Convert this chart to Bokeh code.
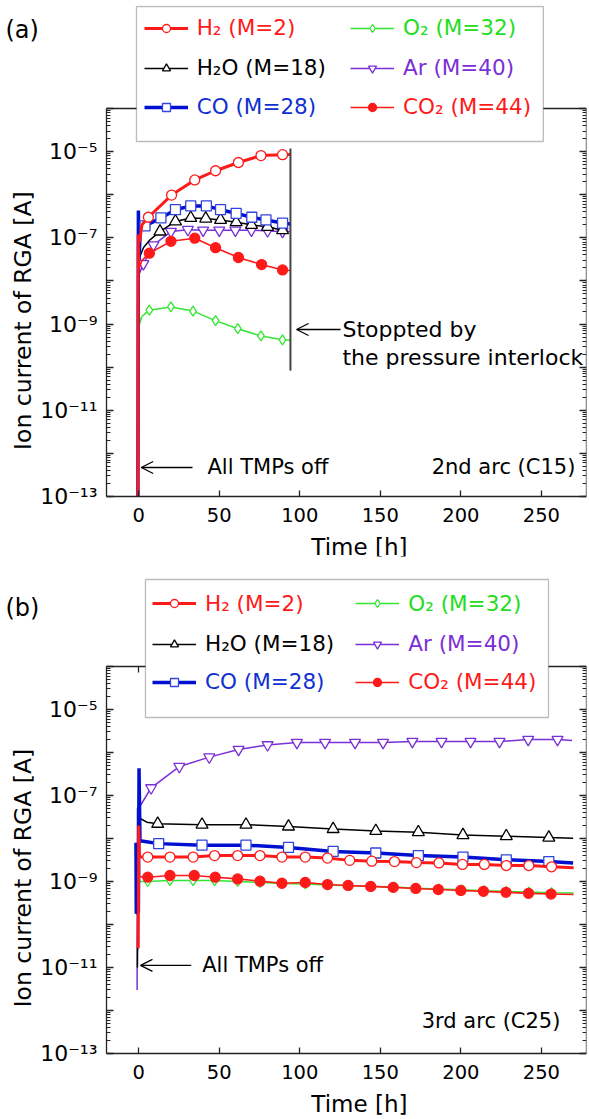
import numpy as np
from bokeh.plotting import figure
from bokeh.layouts import column
from bokeh.models import (Legend, LegendItem, LinearAxis, LogAxis, FixedTicker, Range1d,
                          Label, Arrow, OpenHead, BoxAnnotation)
from bokeh.core.properties import value
from bokeh.embed import file_html
from bokeh.resources import INLINE

FONT = "DejaVu Sans"

# ---------------- data: panel (a) 2nd arc (C15) ----------------
a_H2_t = [-0.5, -0.3, 0.5, 2, 6, 20.4, 34.8, 47.7, 61.9, 75.9, 89.3, 94]
a_H2 = [1e-13, 1.2e-7, 8e-8, 2e-7, 3e-7, 9.8e-7, 2.2e-6, 3.6e-6, 5.6e-6, 8.1e-6, 8.5e-6, 8.6e-6]
a_H2_mk = [6, 20.4, 34.8, 47.7, 61.9, 75.9, 89.3]

a_H2O_t = [-0.5, -0.2, 0.5, 3, 7, 13.2, 22.8, 32.3, 41.6, 50.8, 60.5, 70, 80, 89.3]
a_H2O = [1e-13, 3e-8, 3.5e-8, 6e-8, 9e-8, 1.4e-7, 2.4e-7, 2.9e-7, 2.8e-7, 2.6e-7, 2.3e-7, 2e-7, 1.8e-7, 1.5e-7]
a_H2O_mk = [13.2, 22.8, 32.3, 41.6, 50.8, 60.5, 70, 80, 89.3]

a_CO_t = [-0.5, -0.2, 0.2, 1.0, 3.9, 13.8, 22.8, 32.3, 42, 50.8, 60.5, 70.2, 79, 89.3, 94]
a_CO = [1e-13, 4.3e-7, 3e-8, 1.7e-7, 1.9e-7, 2.9e-7, 4.5e-7, 5.5e-7, 5.5e-7, 4.5e-7, 3.7e-7, 3e-7, 2.6e-7, 2.2e-7, 2.1e-7]
a_CO_mk = [3.9, 13.8, 22.8, 32.3, 42, 50.8, 60.5, 70.2, 79, 89.3]

a_O2_t = [-0.5, -0.2, 0.5, 2, 6.6, 20, 33.7, 47.7, 61.5, 75.9, 89.3, 94]
a_O2 = [1e-13, 3e-8, 1e-9, 1.5e-9, 2.1e-9, 2.5e-9, 2e-9, 1.2e-9, 7.8e-10, 5.3e-10, 4.3e-10, 4.2e-10]
a_O2_mk = [6.6, 20, 33.7, 47.7, 61.5, 75.9, 89.3]

a_Ar_t = [-0.5, -0.2, 0.5, 2.9, 9.1, 20, 30.5, 40, 50, 60, 70, 80, 89.3, 94]
a_Ar = [1e-13, 2e-8, 1.5e-8, 2.5e-8, 6.8e-8, 1.4e-7, 1.55e-7, 1.5e-7, 1.5e-7, 1.5e-7, 1.5e-7, 1.45e-7, 1.4e-7, 1.4e-7]
a_Ar_mk = [2.9, 9.1, 20, 30.5, 40, 50, 60, 70, 80, 89.3]

a_CO2_t = [-0.5, -0.2, 0.5, 2, 6.6, 20, 34.8, 47.7, 61.9, 76.3, 89.3, 94]
a_CO2 = [1e-13, 1e-7, 2e-8, 3e-8, 4.4e-8, 8.3e-8, 9.8e-8, 5.9e-8, 3.5e-8, 2.4e-8, 1.8e-8, 1.75e-8]
a_CO2_mk = [6.6, 20, 34.8, 47.7, 61.9, 76.3, 89.3]

# ---------------- data: panel (b) 3rd arc (C25) ----------------
b_H2_t = [-0.3, 0, 0.5, 5.6, 19.4, 33.8, 47.1, 61.4, 75.3, 88.9, 103.4, 117.2, 131, 144.7, 158.8,
          172.4, 186.4, 201, 214.6, 228.2, 242.2, 256.3, 270]
b_H2 = [2.8e-11, 2e-8, 3.7e-9, 3.7e-9, 3.7e-9, 3.7e-9, 4e-9, 4e-9, 4e-9, 3.7e-9, 3.7e-9, 3.5e-9, 3.1e-9,
        2.97e-9, 2.9e-9, 2.75e-9, 2.7e-9, 2.5e-9, 2.5e-9, 2.35e-9, 2.35e-9, 2.2e-9, 2.1e-9]
b_H2_mk = [5.6, 19.4, 33.8, 47.1, 61.4, 75.3, 88.9, 103.4, 117.2, 131, 144.7, 158.8, 172.4, 186.4,
           201, 214.6, 228.2, 242.2, 256.3]

b_H2O_t = [-0.8, -0.3, 0.4, 5, 11.8, 39.3, 66.6, 93, 120.7, 147.2, 173.6, 201.3, 228.2, 254.6, 269.7]
b_H2O = [1e-11, 3e-8, 3e-8, 2.4e-8, 2.2e-8, 2.1e-8, 2.1e-8, 1.9e-8, 1.66e-8, 1.5e-8, 1.4e-8, 1.2e-8,
         1.13e-8, 1.05e-8, 1.02e-8]
b_H2O_mk = [11.8, 39.3, 66.6, 93, 120.7, 147.2, 173.6, 201.3, 228.2, 254.6]

b_CO_t = [-1.7, -1.5, -0.2, 0.2, 0.8, 12.4, 39.3, 66.6, 93, 120.7, 147.2, 173.6, 201.3, 228.2, 254.6, 269.7]
b_CO = [8e-9, 1.8e-10, 2e-10, 4.3e-7, 8.9e-9, 7.6e-9, 7e-9, 7e-9, 6.2e-9, 5e-9, 4.6e-9, 4e-9, 3.7e-9,
        3.2e-9, 2.9e-9, 2.7e-9]
b_CO_mk = [12.4, 39.3, 66.6, 93, 120.7, 147.2, 173.6, 201.3, 228.2, 254.6]

b_O2_t = [-0.5, -0.2, 0.5, 5.6, 19.4, 33.8, 47.1, 61.4, 75.3, 88.9, 103.4, 117.2, 131, 144.7, 158.8,
          172.4, 186.4, 201, 214.6, 228.2, 242.2, 256.3, 270]
b_O2 = [2.5e-11, 6.5e-8, 1e-9, 1.0e-9, 1.05e-9, 1.05e-9, 1.05e-9, 1.0e-9, 9.5e-10, 9e-10, 8.8e-10, 8.3e-10,
        8e-10, 7.7e-10, 7.4e-10, 7e-10, 6.7e-10, 6.4e-10, 6.1e-10, 5.9e-10, 5.7e-10, 5.5e-10, 5.4e-10]
b_O2_mk = [5.6, 19.4, 33.8, 47.1, 61.4, 75.3, 88.9, 103.4, 117.2, 131, 144.7, 158.8, 172.4, 186.4,
           201, 214.6, 228.2, 242.2, 256.3]

b_Ar_t = [-1.0, -0.8, 0.5, 7.7, 25.2, 43.8, 62, 80, 98.2, 115.7, 134.3, 151.7, 169.9, 188, 206, 224,
          241.8, 260, 269]
b_Ar = [3e-12, 5e-8, 5.4e-8, 1.5e-7, 4.7e-7, 7.8e-7, 1.17e-6, 1.5e-6, 1.7e-6, 1.7e-6, 1.7e-6, 1.7e-6,
        1.8e-6, 1.8e-6, 1.8e-6, 1.8e-6, 2e-6, 2e-6, 1.9e-6]
b_Ar_mk = [7.7, 25.2, 43.8, 62, 80, 98.2, 115.7, 134.3, 151.7, 169.9, 188, 206, 224, 241.8, 260]

b_CO2_t = [-0.3, 0, 0.5, 5.6, 19.4, 34.5, 47.5, 61.4, 75.3, 88.9, 103.4, 117.2, 130, 144, 158, 172,
           186, 200, 214, 228, 242, 256, 270]
b_CO2 = [2.8e-11, 1.5e-8, 1.3e-9, 1.26e-9, 1.38e-9, 1.38e-9, 1.26e-9, 1.15e-9, 1.02e-9, 9.1e-10, 9.5e-10,
         8.5e-10, 8.1e-10, 7.7e-10, 7.3e-10, 6.9e-10, 6.5e-10, 6.2e-10, 5.9e-10, 5.6e-10, 5.3e-10,
         5.1e-10, 5e-10]
b_CO2_mk = [5.6, 19.4, 34.5, 47.5, 61.4, 75.3, 88.9, 103.4, 117.2, 130, 144, 158, 172, 186, 200, 214,
            228, 242, 256]

# ---------------- axes ----------------
X_MIN, X_MAX = -20, 278
Y_MIN, Y_MAX = 1e-13, 1e-4
x_ticks = [0, 50, 100, 150, 200, 250]
x_tick_text = [str(t) for t in x_ticks]
y_major = [10.0 ** e for e in range(-13, -3)]
y_label_exp = [-13, -11, -9, -7, -5]
y_minor = [k * 10.0 ** e for e in range(-13, -4) for k in range(2, 10)]
SUP = str.maketrans("-0123456789", "\u207b\u2070\u00b9\u00b2\u00b3\u2074\u2075\u2076\u2077\u2078\u2079")
y_label_text = ["10" + str(e).translate(SUP) for e in y_label_exp]
y_label_vals = [10.0 ** e for e in y_label_exp]

legend_labels = {"H2": "H\u2082 (M=2)", "H2O": "H\u2082O (M=18)", "CO": "CO (M=28)",
                 "O2": "O\u2082 (M=32)", "Ar": "Ar (M=40)", "CO2": "CO\u2082 (M=44)"}

RED = "#ff1a1a"
STYLE = {
    "O2": dict(color="#33e633", text="#22dd22", lw=1.5, marker="diamond", size=10, fill="white"),
    "Ar": dict(color="#7a2fd6", text="#7a2fd6", lw=1.5, marker="inverted_triangle", size=11, fill="white"),
    "H2O": dict(color="#000000", text="#000000", lw=1.5, marker="triangle", size=12, fill="white"),
    "CO": dict(color="#0010d0", text="#1030d0", lw=3.5, marker="square", size=10, fill="white"),
    "H2": dict(color=RED, text=RED, lw=3, marker="circle", size=10, fill="white"),
    "CO2": dict(color=RED, text=RED, lw=1.6, marker="circle", size=10, fill=RED),
}
MARK_EDGE = {"CO": "#3344dd"}

# layout (canvas pixels)
FIG_W = 589
BORDER_L, BORDER_R, BORDER_T, BORDER_B = 4, 3, 5, 4
FRAME_W = FIG_W - BORDER_L - BORDER_R
AXIS_LEFT_PX = 106          # where x = X_MIN sits on the canvas
PX_PER_H = (BORDER_L + FRAME_W - AXIS_LEFT_PX) / (X_MAX - X_MIN)
X_START = X_MIN - (AXIS_LEFT_PX - BORDER_L) / PX_PER_H


def style_axis(ax):
    ax.major_tick_in = 7
    ax.major_tick_out = 0
    ax.minor_tick_in = 4
    ax.minor_tick_out = 0
    ax.axis_line_width = 1.3
    ax.major_tick_line_width = 1.3
    ax.minor_tick_line_width = 1
    for a in ("axis_line_color", "major_tick_line_color", "minor_tick_line_color"):
        setattr(ax, a, "#222222")
    ax.major_label_text_font_size = "1px"
    ax.major_label_text_color = None
    ax.major_label_standoff = 0


def make_panel(data, fig_h, axis_bottom, px_dec, tag, tag_y, box, rows, cols,
               arc_text, arc_pos, tmp_arrow, tmp_text, title_y):
    frame_h = fig_h - BORDER_T - BORDER_B
    lmin = np.log10(Y_MIN)
    y_lo = 10 ** (lmin - (fig_h - BORDER_B - axis_bottom) / px_dec)
    y_hi = 10 ** (lmin + (axis_bottom - BORDER_T) / px_dec)
    p = figure(frame_width=FRAME_W, frame_height=frame_h, y_axis_type="log",
               x_axis_location=None, y_axis_location=None,
               x_range=Range1d(X_START, X_MAX), y_range=Range1d(y_lo, y_hi),
               output_backend="svg", toolbar_location=None,
               min_border_left=BORDER_L, min_border_right=BORDER_R,
               min_border_top=BORDER_T, min_border_bottom=BORDER_B)
    p.outline_line_color = None
    p.grid.visible = False

    xa = LinearAxis(ticker=FixedTicker(ticks=x_ticks, minor_ticks=[]), bounds=(X_MIN, X_MAX),
                    fixed_location=Y_MIN)
    style_axis(xa)
    xa.major_tick_in = 6
    p.add_layout(xa, "below")

    top_ax = LinearAxis(ticker=FixedTicker(ticks=x_ticks, minor_ticks=[]), bounds=(X_MIN, X_MAX),
                        fixed_location=Y_MAX)
    style_axis(top_ax)
    top_ax.major_tick_in = 6
    p.add_layout(top_ax, "above")

    ya = LogAxis(ticker=FixedTicker(ticks=y_major, minor_ticks=y_minor), bounds=(Y_MIN, Y_MAX),
                 fixed_location=X_MIN)
    style_axis(ya)
    p.add_layout(ya, "left")

    ra = LogAxis(ticker=FixedTicker(ticks=y_major, minor_ticks=y_minor), bounds=(Y_MIN, Y_MAX),
                 fixed_location=X_MAX)
    style_axis(ra)
    p.add_layout(ra, "right")

    # tick labels and axis titles
    p.text(x=[X_MIN] * len(y_label_vals), y=y_label_vals, text=y_label_text, x_offset=-9,
           text_align="right", text_baseline="middle", text_font=value(FONT),
           text_font_size="22px", text_color="black")
    p.text(x=x_ticks, y=[10 ** (lmin - 18 / px_dec)] * len(x_ticks), text=x_tick_text,
           text_align="center", text_baseline="middle", text_font=value(FONT),
           text_font_size="19.5px", text_color="black")
    p.add_layout(Label(x=137, y=10 ** (lmin - 50 / px_dec), text="Time [h]", text_font=FONT,
                       text_font_size="23px", text_color="black", text_align="center",
                       text_baseline="middle"))
    p.add_layout(Label(x=X_START + 18 / PX_PER_H, y=title_y, text="Ion current of RGA [A]",
                       angle=np.pi / 2, text_font=FONT, text_font_size="23.5px", text_color="black",
                       text_align="center", text_baseline="middle"))

    rends = {}
    for key in ["O2", "Ar", "H2O", "CO", "H2", "CO2"]:
        t, v, mk = data[key]
        st = STYLE[key]
        lr = p.line(t, v, line_color=st["color"], line_width=st["lw"])
        mv = [v[t.index(m)] for m in mk]
        sr = p.scatter(mk, mv, marker=st["marker"], size=st["size"],
                       line_color=MARK_EDGE.get(key, st["color"]), line_width=1.3,
                       fill_color=st["fill"])
        rends[key] = (lr, sr)

    # legend box
    p.add_layout(BoxAnnotation(left=box[0], right=box[1], bottom=box[2], top=box[3],
                               fill_color="white", fill_alpha=1.0, line_color="#222222",
                               line_width=1.3, level="overlay"))
    shift = fig_h - BORDER_B - axis_bottom
    order = [["H2", "H2O", "CO"], ["O2", "Ar", "CO2"]]
    for ci, col in enumerate(order):
        for ri, key in enumerate(col):
            lg = Legend(items=[LegendItem(label=legend_labels[key], renderers=list(rends[key]))],
                        location=(cols[ci], rows[ri] + shift), orientation="vertical",
                        background_fill_alpha=0, border_line_color=None, padding=0, spacing=0,
                        margin=0, glyph_width=44, glyph_height=20, label_standoff=9,
                        label_text_font=FONT, label_text_font_size="21.5px",
                        label_text_color=STYLE[key]["text"], label_height=20, level="overlay")
            p.add_layout(lg, "center")

    p.add_layout(Label(x=X_START + 1 / PX_PER_H, y=tag_y, text=tag, text_font=FONT, text_font_size="24px",
                       text_color="black", text_align="left", text_baseline="middle"))
    p.add_layout(Label(x=arc_pos[0], y=arc_pos[1], text=arc_text, text_font=FONT, text_font_size="21px",
                       text_color="black", text_align="right", text_baseline="middle"))
    p.add_layout(Arrow(end=OpenHead(size=12, line_width=1.3), x_start=tmp_arrow[0], x_end=tmp_arrow[1],
                       y_start=tmp_arrow[2], y_end=tmp_arrow[2], line_width=1.3))
    p.add_layout(Label(x=tmp_text[0], y=tmp_text[1], text="All TMPs off", text_font=FONT,
                       text_color="black", text_font_size="21px", text_align="left", text_baseline="middle"))
    return p


data_a = {"H2": (a_H2_t, a_H2, a_H2_mk), "H2O": (a_H2O_t, a_H2O, a_H2O_mk), "CO": (a_CO_t, a_CO, a_CO_mk),
          "O2": (a_O2_t, a_O2, a_O2_mk), "Ar": (a_Ar_t, a_Ar, a_Ar_mk), "CO2": (a_CO2_t, a_CO2, a_CO2_mk)}
data_b = {"H2": (b_H2_t, b_H2, b_H2_mk), "H2O": (b_H2O_t, b_H2O, b_H2O_mk), "CO": (b_CO_t, b_CO, b_CO_mk),
          "O2": (b_O2_t, b_O2, b_O2_mk), "Ar": (b_Ar_t, b_Ar, b_Ar_mk), "CO2": (b_CO2_t, b_CO2, b_CO2_mk)}

pa = make_panel(data_a, 560, 496, 43.11, "(a)", 10 ** -2.19,
                (-1.4, 251.2, 10 ** -4.765, 10 ** -1.634), [455.7, 415.7, 376.7], [139.7, 346],
                "2nd arc (C15)", (271.1, 10 ** -12.327), (33.4, 1.55, 10 ** -12.327), (42.7, 10 ** -12.327),
                10 ** -8.92)

# stop annotation in (a)
stop_t = 94.2
pa.segment(x0=[stop_t], x1=[stop_t], y0=[10 ** -10.08], y1=[10 ** -4.93], line_color="#444444", line_width=2)
pa.add_layout(Arrow(end=OpenHead(size=12, line_width=1.3), x_start=125.3, x_end=98.0,
                    y_start=10 ** -9.126, y_end=10 ** -9.126, line_width=1.3))
pa.add_layout(Label(x=126.5, y=10 ** -9.126, text="Stoppted by", text_font=FONT, text_font_size="22px",
                    text_color="black", text_align="left", text_baseline="middle"))
pa.add_layout(Label(x=126.5, y=10 ** -9.776, text="the pressure interlock", text_font=FONT,
                    text_color="black", text_font_size="22px", text_align="left", text_baseline="middle"))

pb = make_panel(data_b, 559, 493, 43.0, "(b)", 10 ** -2.65,
                (4.2, 254.4, 10 ** -5.186, 10 ** -1.977), [437.4, 396.7, 359.0], [148, 351.3],
                "3rd arc (C25)", (261.8, 10 ** -12.25), (32.6, 1.1, 10 ** -10.95), (39.4, 10 ** -10.95),
                10 ** -8.92)

layout = column(pa, pb, spacing=0)
open("out.html", "w").write(file_html(layout, INLINE))
